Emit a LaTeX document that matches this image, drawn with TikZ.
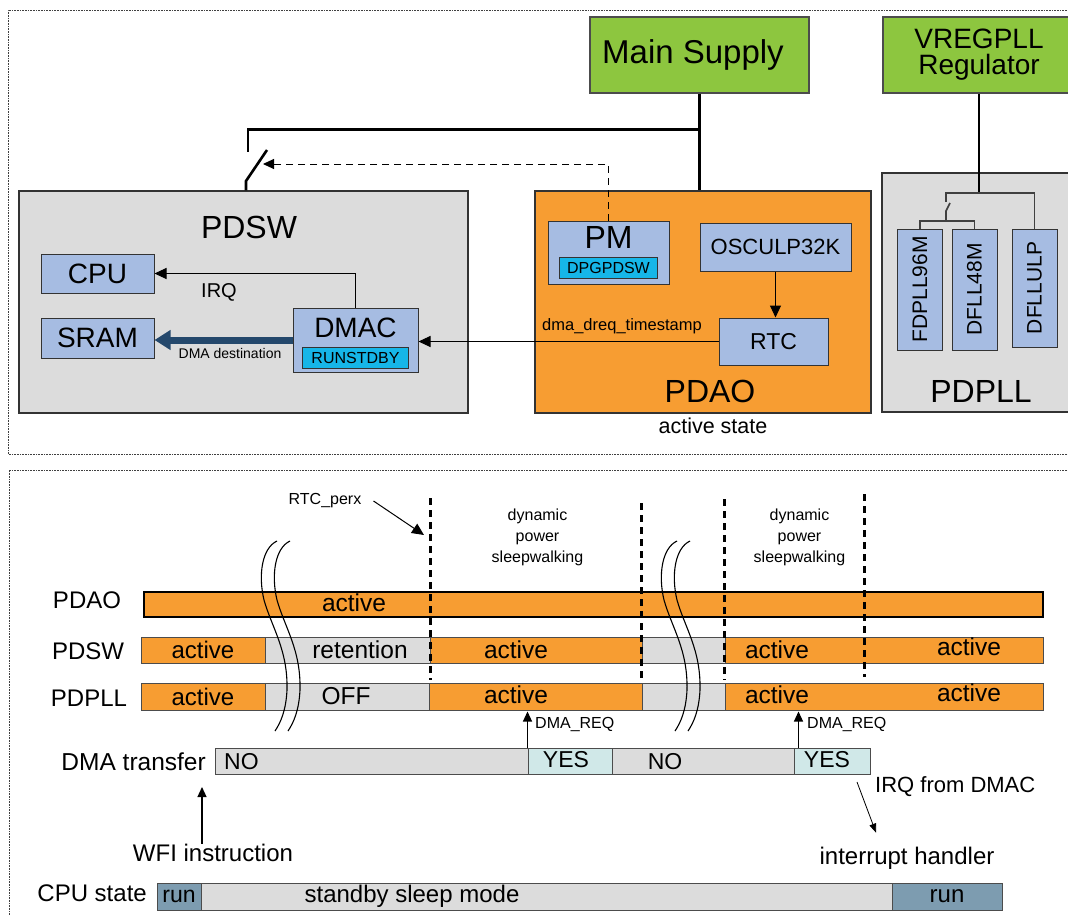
\documentclass[tikz,border=0pt]{standalone}
\usepackage{fontspec}
\setmainfont{Liberation Sans}
\usepackage{tikz}
\usetikzlibrary{positioning, arrows.meta}

\definecolor{aoorange}{RGB}{247,157,50}
\definecolor{supgreen}{RGB}{141,198,63}
\definecolor{periblue}{RGB}{166,188,226}
\definecolor{bitcyan}{RGB}{22,182,232}
\definecolor{offgrey}{RGB}{220,220,220}
\definecolor{yesteal}{RGB}{208,232,232}
\definecolor{runslate}{RGB}{125,156,176}
\definecolor{dmanavy}{RGB}{36,72,108}

\tikzset{
  txt/.style={font=\fontsize{#1}{#1}\selectfont, inner sep=0pt},
  frame/.style={draw=black!75, line width=0.8pt, dash pattern=on 0.8pt off 0.8pt},
  dom/.style={draw=black!80, line width=1.2pt, inner sep=0pt},
  periph/.style={draw=black!80, fill=periblue, line width=1pt, inner sep=0pt},
  regbit/.style={draw=black!80, fill=bitcyan, line width=1pt, inner sep=0pt, font=\fontsize{16}{16}\selectfont},
  supply/.style={draw=black!70, fill=supgreen, line width=1.2pt, inner sep=0pt},
  clk/.style={periph, rotate=90, minimum height=45, font=\fontsize{21}{21}\selectfont},
  bar/.style={draw=black!70, line width=1pt, inner sep=0pt, font=\fontsize{24}{24}\selectfont},
  pwr/.style={line width=2.6pt},
  branch/.style={draw=black!75, line width=1.6pt},
  sig/.style={line width=1pt, -{Triangle[length=12pt,width=11pt]}},
  req/.style={line width=1.2pt, -{Triangle[length=10pt,width=9pt]}},
  ctl/.style={line width=1pt, dash pattern=on 7pt off 5pt, -{Triangle[length=11pt,width=10pt]}},
  dmadst/.style={draw=dmanavy, line width=7pt, -{Triangle[length=16pt,width=19pt]}},
  tmark/.style={line width=3pt, dash pattern=on 7pt off 5pt},
  brk/.style={line width=1.1pt},
  dps/.style={font=\fontsize{16}{21}\selectfont, align=center, inner sep=0pt}
}

\begin{document}
\begin{tikzpicture}[x=1pt, y=-1pt]
\useasboundingbox (0,0) rectangle (1068,915);

\draw[frame] (1080,10) -| (8,454) -- (1080,454);

\node[supply, minimum width=219, minimum height=76] (main) at (699.5,55) {};
\node[txt=33] (mainlbl) at (693,55) {Main Supply};
\node[supply, minimum width=192, minimum height=76, align=center, font=\fontsize{28}{26}\selectfont] (vreg) at (979,55) {VREGPLL\\Regulator};

\node[dom, fill=offgrey, minimum width=449, minimum height=222] (pdsw) at (243.5,302) {};
\node[dom, fill=aoorange, minimum width=336, minimum height=222] (pdao) at (703,302) {};
\node[dom, fill=offgrey, minimum width=200, minimum height=239] (pdpll) at (982,292.5) {};
\node[txt=32] (pdswlbl) at (249,227) {PDSW};
\node[txt=32] (pdaolbl) at (710,391) {PDAO};
\node[txt=32] (pdplllbl) at (981,391) {PDPLL};
\node[txt=21.5] (aostate) at (713,426) {active state};

\node[periph, minimum width=113, minimum height=39, txt=28] (cpu) at (97.5,273.5) {CPU};
\node[periph, minimum width=113, minimum height=40, txt=28] (sram) at (97.5,338) {SRAM};
\node[periph, minimum width=125, minimum height=64] (dmac) at (355.5,340) {};
\node[txt=28, below=10pt of dmac.north] (dmaclbl) {DMAC};
\node[regbit, minimum width=106, minimum height=21, above=4pt of dmac.south] (runstdby) {RUNSTDBY};

\node[periph, minimum width=121, minimum height=63] (pm) at (608.5,252.5) {};
\node[txt=32, below=6pt of pm.north] (pmlbl) {PM};
\node[regbit, minimum width=98, minimum height=21, above=6pt of pm.south] (dpgpdsw) {DPGPDSW};
\node[periph, minimum width=151, minimum height=48, txt=22] (osc) at (775.5,247) {OSCULP32K};
\node[periph, minimum width=109, minimum height=47, txt=23] (rtc) at (773.5,341.5) {RTC};

\node[clk, minimum width=121] (fdpll) at (920,289.5) {FDPLL96M};
\node[clk, minimum width=121] (dfll48) at (974.5,289.5) {DFLL48M};
\node[clk, minimum width=118] (dfllulp) at (1034.5,288) {DFLLULP};

\coordinate (mjoin) at ([yshift=-36pt]main.south);
\coordinate (swtop) at (248,152);
\coordinate (swbot) at (246,181);
\coordinate (swtip) at (267,150);
\coordinate (swarr) at (263,164);
\draw[pwr] (main.south) -- (main.south |- pdao.north);
\draw[pwr] (mjoin) -| (swtop);
\draw[pwr] (pdsw.north -| swbot) -- (swbot) -- (swtip);
\draw[ctl] (pm.north) |- (swarr);

\draw[sig] (dmac.north) |- (cpu.east);
\node[txt=20] (irqlbl) at (219,292) {IRQ};
\draw[dmadst] (dmac.west) -- (dmac.west -| sram.east);
\node[txt=14] (dmadest) at (230,353) {DMA destination};
\draw[sig] (osc.south) -- (osc.south |- rtc.north);
\draw[sig] (rtc.west) -- (rtc.west -| dmac.east);
\node[txt=16.5, anchor=base] (dreq) at (622,330) {dma\_dreq\_timestamp};

\coordinate (vjoin) at (979,193);
\coordinate (brl) at (946,193);
\coordinate (brs1) at (946,202);
\coordinate (brs2) at (946,211);
\coordinate (brst) at (950,203);
\coordinate (brlo) at (946,221);
\draw[pwr] (vreg.south) -- (vjoin);
\draw[branch] (dfllulp.east) |- (brl) -- (brs1);
\draw[branch] (fdpll.east) |- (brlo) -| (dfll48.east);
\draw[branch] (brlo) -- (brs2) -- (brst);

\draw[frame] (1080,470) -| (9,930);

\node[txt=24] (rowao) at (87,600) {PDAO};
\node[txt=24] (rowsw) at (88,651) {PDSW};
\node[txt=24] (rowpll) at (89,698) {PDPLL};

\node[bar, fill=aoorange, draw=black, line width=2.4pt, minimum width=899, minimum height=25] (aobar) at (593.5,604.5) {};

\node[bar, fill=aoorange, minimum width=124, minimum height=26] (sw1) at (203,650) {active};
\node[bar, fill=offgrey, minimum width=165, minimum height=26] (sw2) at (347.5,650) {};
\node[bar, fill=aoorange, minimum width=212, minimum height=26] (sw3) at (536,650) {};
\node[bar, fill=offgrey, minimum width=83, minimum height=26] (sw4) at (683.5,650) {};
\node[bar, fill=aoorange, minimum width=318, minimum height=26] (sw5) at (884,650) {};

\node[bar, fill=aoorange, minimum width=124, minimum height=27] (pl1) at (203,696.5) {active};
\node[bar, fill=offgrey, minimum width=164, minimum height=27] (pl2) at (347,696.5) {};
\node[bar, fill=aoorange, minimum width=213, minimum height=27] (pl3) at (535.5,696.5) {};
\node[bar, fill=offgrey, minimum width=83, minimum height=27] (pl4) at (683.5,696.5) {};
\node[bar, fill=aoorange, minimum width=318, minimum height=27] (pl5) at (884,696.5) {};

\draw[tmark] (430,498) -- (430,680);
\draw[tmark] (641,503) -- (641,680);
\draw[tmark] (724,499) -- (724,680);
\draw[tmark] (864,494) -- (864,677);

\node[txt=24.5] (aoact) at (354,603) {active};
\node[txt=24.5] (swret) at (360,650) {retention};
\node[txt=24.5] (swact1) at (516,650) {active};
\node[txt=24.5] (swact2) at (777,650) {active};
\node[txt=24.5] (swact3) at (969,647) {active};
\node[txt=24.5] (ploff) at (346,696) {OFF};
\node[txt=24.5] (plact1) at (516,695) {active};
\node[txt=24.5] (plact2) at (777,695) {active};
\node[txt=24.5] (plact3) at (969,693) {active};

\node[txt=16] (perx) at (325,501) {RTC\_perx};
\coordinate (perxtip) at (424,535);
\draw[sig] ([xshift=12pt]perx.east) -- (perxtip);
\node[dps] (dps1) at (537.5,537) {dynamic\\power\\sleepwalking};
\node[dps] (dps2) at (799.5,537) {dynamic\\power\\sleepwalking};

\foreach \bx in {0,13,400,413}
  \draw[brk, xshift=\bx] (277,541) .. controls (262,548) and (258,575) .. (264,600) .. controls (272,628) and (288,650) .. (287,690) .. controls (286,710) and (281,722) .. (275,731);

\node[txt=24.5, anchor=east] (dmarow) at (206,762) {DMA transfer};
\node[bar, fill=offgrey, minimum width=313, minimum height=26] (dm1) at (371.5,761) {};
\node[bar, fill=yesteal, minimum width=84, minimum height=26] (dm2) at (570,761) {};
\node[bar, fill=offgrey, minimum width=182, minimum height=26] (dm3) at (703,761) {};
\node[bar, fill=yesteal, minimum width=76, minimum height=26] (dm4) at (832,761) {};
\node[txt=23, anchor=west] (dmno1) at (224,762) {NO};
\node[txt=23] (dmyes1) at (566,760) {YES};
\node[txt=23] (dmno2) at (665,762) {NO};
\node[txt=23] (dmyes2) at (827,760) {YES};

\draw[req] (dm2.north west) -- ++(0,-36);
\node[txt=16, anchor=west] (req1) at (535,724) {DMA\_REQ};
\draw[req] ([xshift=5pt]dm4.north west) -- ++(0,-36);
\node[txt=16, anchor=west] (req2) at (807,724) {DMA\_REQ};

\node[txt=24] (wfi) at (213,853) {WFI instruction};
\coordinate (wfitip) at (202,787);
\draw[req] (wfitip |- wfi.north) -- (wfitip);

\node[txt=22, anchor=west] (irqdmac) at (875,787) {IRQ from DMAC};
\node[txt=24] (handler) at (907,858) {interrupt handler};
\draw[line width=0.8pt, -{Triangle[length=9pt,width=7pt]}] ([xshift=-18pt,yshift=5pt]irqdmac.west) -- ([xshift=-31pt,yshift=14pt]handler.north);

\node[txt=24, anchor=east] (cpurow) at (147,893) {CPU state};
\node[bar, fill=runslate, minimum width=44, minimum height=27, font=\fontsize{23}{23}\selectfont] (cp1) at (179,896.5) {run};
\node[bar, fill=offgrey, minimum width=691, minimum height=27] (cp2) at (546.5,896.5) {};
\node[bar, fill=runslate, minimum width=110, minimum height=27, font=\fontsize{24}{24}\selectfont] (cp3) at (947,896.5) {run};
\node[txt=24] (standby) at (412,896) {standby sleep mode};

\end{tikzpicture}
\end{document}
